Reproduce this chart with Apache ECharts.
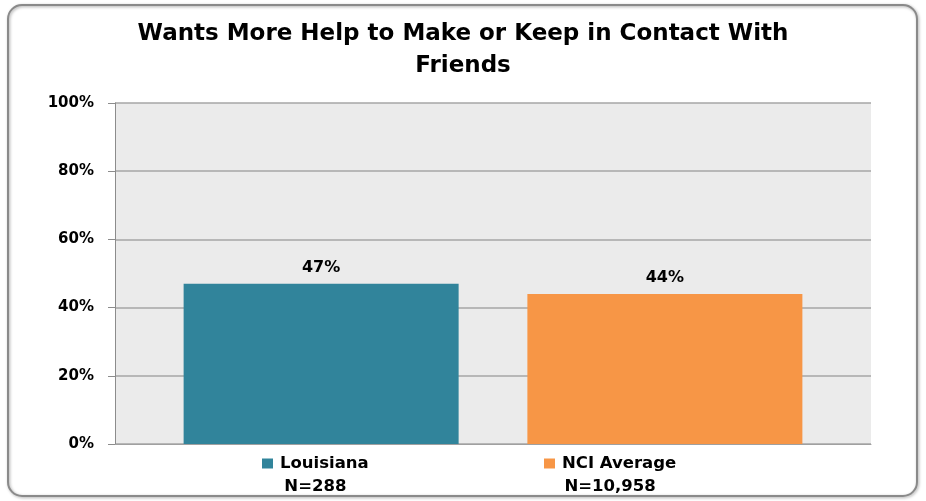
<!DOCTYPE html>
<html>
<head>
<meta charset="utf-8">
<script src="https://cdn.jsdelivr.net/npm/echarts@6/dist/echarts.min.js"></script>
<style>
html,body{margin:0;padding:0;background:#fff;}
#chart{width:926px;height:501px;}
</style>
</head>
<body>
<div id="chart"></div>
<script>
const titleText = 'Wants More Help to Make or Keep in Contact With\nFriends';
const seriesNames = ['Louisiana', 'NCI Average'];
const sampleSizes = ['N=288', 'N=10,958'];
const values = [47, 44];
const colors = ['#31849b', '#f79646'];
const yTicks = [0, 20, 40, 60, 80, 100];

const FONT = 'DejaVu Sans';
const chart = echarts.init(document.getElementById('chart'));

const legendLefts = [252, 534];
const legends = seriesNames.map((name, i) => ({
  data: [name],
  left: legendLefts[i],
  top: 450,
  icon: 'none',
  itemWidth: 0,
  itemHeight: 0,
  selectedMode: false,
  formatter: n => '{m|}{g|}{n|' + n + '}\n{s|' + sampleSizes[i] + '}',
  textStyle: {
    rich: {
      m: { width: 11, height: 10, backgroundColor: colors[i], align: 'center' },
      g: { width: 7, align: 'center' },
      n: { fontFamily: FONT, fontWeight: 'bold', fontSize: 16.5, color: '#000', align: 'center', lineHeight: 23 },
      s: { fontFamily: FONT, fontWeight: 'bold', fontSize: 16.5, color: '#000', align: 'center', lineHeight: 23 }
    }
  }
}));

const option = {
  animation: false,
  backgroundColor: '#fff',
  title: {
    text: titleText,
    left: 'center',
    top: 13,
    textStyle: { fontFamily: FONT, fontWeight: 'bold', fontSize: 23, lineHeight: 32, color: '#000' }
  },
  legend: legends,
  grid: {
    left: 115, right: 55, top: 103, bottom: 57,
    show: true, backgroundColor: '#ebebeb', borderWidth: 0
  },
  xAxis: {
    type: 'category',
    data: [''],
    axisLine: { show: true, lineStyle: { color: '#a0a0a0', width: 1 } },
    axisTick: { show: false },
    axisLabel: { show: false }
  },
  yAxis: {
    type: 'value',
    min: yTicks[0],
    max: yTicks[yTicks.length - 1],
    interval: 20,
    axisLine: { show: true, lineStyle: { color: '#8c8c8c', width: 1 } },
    axisTick: { show: true, length: 7, lineStyle: { color: '#8c8c8c' } },
    splitLine: { show: true, lineStyle: { color: '#a6a6a6', width: 1.5 } },
    axisLabel: {
      formatter: '{value}%',
      margin: 21,
      fontFamily: FONT, fontWeight: 'bold', fontSize: 15, color: '#000'
    }
  },
  series: seriesNames.map((name, i) => ({
    name: name,
    type: 'bar',
    data: [values[i]],
    barWidth: 275,
    barGap: '25%',
    itemStyle: { color: colors[i] },
    label: {
      show: true,
      position: 'top',
      distance: 8,
      formatter: '{c}%',
      fontFamily: FONT, fontWeight: 'bold', fontSize: 16, color: '#000'
    }
  })),
  graphic: [{
    type: 'rect',
    shape: { x: 8, y: 5, width: 909, height: 491, r: 14 },
    style: { fill: 'none', stroke: '#8a8a8a', lineWidth: 2, shadowBlur: 3, shadowColor: 'rgba(0,0,0,0.35)', shadowOffsetX: 1, shadowOffsetY: 1 },
    silent: true,
    z: 100
  }]
};
chart.setOption(option);
</script>
</body>
</html>
